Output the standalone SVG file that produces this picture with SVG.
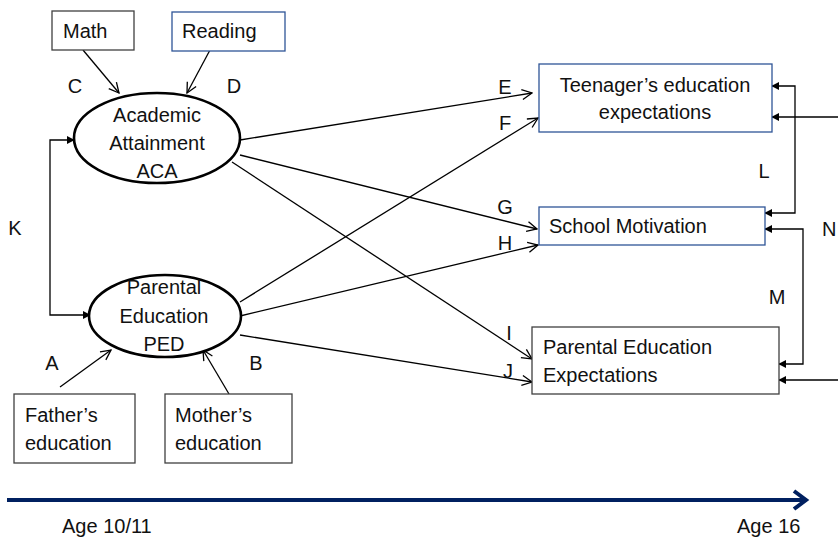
<svg xmlns="http://www.w3.org/2000/svg" width="838" height="544" viewBox="0 0 838 544">
<style>
text{font-family:"Liberation Sans",Arial,sans-serif;font-size:20px;fill:#111}
.c{text-anchor:middle}
.box{fill:#fff;stroke-width:1.3}
.gray{stroke:#404040}
.blue{stroke:#2F5597}
.ell{fill:#fff;stroke:#000;stroke-width:2.6}
.arr{fill:none;stroke:#000;stroke-width:1.3;marker-end:url(#open)}
.cor{fill:none;stroke:#000;stroke-width:1.3}
</style>
<defs>
<marker id="open" viewBox="0 0 12 12" refX="11" refY="6" markerWidth="12" markerHeight="12" markerUnits="userSpaceOnUse" orient="auto">
<path d="M1,1 L11,6 L1,11" fill="none" stroke="#000" stroke-width="1.3"/>
</marker>
<marker id="fill" viewBox="0 0 10 10" refX="9" refY="5" markerWidth="8" markerHeight="8" markerUnits="userSpaceOnUse" orient="auto-start-reverse">
<path d="M0,0 L10,5 L0,10 z" fill="#000"/>
</marker>
</defs>

<g id="connectors">
<line class="arr" x1="83" y1="50" x2="119" y2="93"/>
<line class="arr" x1="210" y1="50" x2="187" y2="93"/>
<line class="arr" x1="60" y1="387" x2="111" y2="350"/>
<line class="arr" x1="229" y1="394" x2="203" y2="350"/>
<line class="arr" x1="240" y1="140" x2="532" y2="93"/>
<line class="arr" x1="240" y1="302" x2="538" y2="118"/>
<line class="arr" x1="240" y1="155" x2="537" y2="229"/>
<line class="arr" x1="240" y1="316" x2="538" y2="245"/>
<line class="arr" x1="232" y1="162" x2="532" y2="359"/>
<line class="arr" x1="240" y1="335" x2="532" y2="382"/>
<path class="cor" d="M74,140 H50 V315 H90" marker-start="url(#fill)" marker-end="url(#fill)"/>
<path class="cor" d="M772,86 H795 V213 H765" marker-start="url(#fill)" marker-end="url(#fill)"/>
<path class="cor" d="M765,229 H803 V364 H779" marker-start="url(#fill)" marker-end="url(#fill)"/>
<path class="cor" d="M838,117 H772" marker-end="url(#fill)"/>
<path class="cor" d="M838,380 H779" marker-end="url(#fill)"/>
<text class="c" x="75" y="93">C</text>
<text class="c" x="234" y="93">D</text>
<text class="c" x="15" y="235">K</text>
<text class="c" x="52" y="370">A</text>
<text class="c" x="256" y="370">B</text>
<text class="c" x="505" y="94">E</text>
<text class="c" x="505" y="130">F</text>
<text class="c" x="505" y="214">G</text>
<text class="c" x="505" y="250">H</text>
<text class="c" x="509" y="340">I</text>
<text class="c" x="508" y="378">J</text>
<text class="c" x="764" y="178">L</text>
<text class="c" x="777" y="304">M</text>
<text x="822" y="236">N</text>
</g>

<g id="math">
<rect class="box gray" x="52" y="11" width="82" height="39"/>
<text x="63" y="38">Math</text>
</g>
<g id="reading">
<rect class="box blue" x="172" y="12" width="113" height="39"/>
<text x="182" y="38">Reading</text>
</g>
<g id="aca">
<ellipse class="ell" cx="157" cy="138" rx="83" ry="45"/>
<text class="c" x="157" y="122">Academic</text>
<text class="c" x="157" y="150">Attainment</text>
<text class="c" x="157" y="178">ACA</text>
</g>
<g id="ped">
<ellipse class="ell" cx="165" cy="316" rx="76" ry="41"/>
<text class="c" x="164" y="294">Parental</text>
<text class="c" x="164" y="323">Education</text>
<text class="c" x="164" y="351">PED</text>
</g>
<g id="father">
<rect class="box gray" x="14" y="394" width="121" height="69"/>
<text x="25" y="422">Father’s</text>
<text x="25" y="450">education</text>
</g>
<g id="mother">
<rect class="box gray" x="165" y="394" width="127" height="69"/>
<text x="175" y="422">Mother’s</text>
<text x="175" y="450">education</text>
</g>
<g id="teen">
<rect class="box blue" x="539" y="64" width="233" height="68"/>
<text class="c" x="655" y="92">Teenager’s education</text>
<text class="c" x="655" y="119">expectations</text>
</g>
<g id="school">
<rect class="box blue" x="539" y="207" width="226" height="38"/>
<text x="549" y="233">School Motivation</text>
</g>
<g id="pexp">
<rect class="box gray" x="532" y="327" width="247" height="67"/>
<text x="543" y="354">Parental Education</text>
<text x="543" y="382">Expectations</text>
</g>
<g id="timeline">
<line x1="7" y1="500" x2="806" y2="500" stroke="#002060" stroke-width="4"/>
<path d="M794,491 L806,500 L794,509" fill="none" stroke="#002060" stroke-width="4"/>
<text x="62" y="533">Age 10/11</text>
<text x="737" y="533">Age 16</text>
</g>
</svg>
